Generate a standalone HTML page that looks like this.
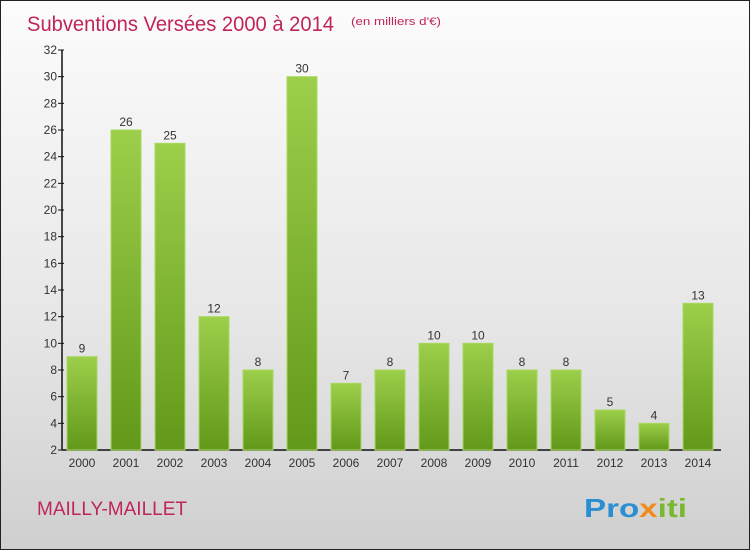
<!DOCTYPE html>
<html><head><meta charset="utf-8"><style>
html,body{margin:0;padding:0}
body{width:750px;height:550px;overflow:hidden;font-family:"Liberation Sans",sans-serif}
#wrap{position:relative;width:748px;height:548px;border:1px solid #222;background:linear-gradient(#fcfcfc,#e6e6e6 60%,#cfcfcf)}
</style></head><body>
<div id="wrap">
<svg id="chart" width="748" height="548" style="position:absolute;left:0;top:0">
<defs><linearGradient id="g" x1="0" y1="0" x2="0" y2="1"><stop offset="0" stop-color="#9ccf4a"/><stop offset="1" stop-color="#62991a"/></linearGradient></defs>
<text x="26" y="30" font-size="21" textLength="307" lengthAdjust="spacingAndGlyphs" fill="#c0245c">Subventions Versées 2000 à 2014</text>
<text x="350" y="24" font-size="11" textLength="90" lengthAdjust="spacingAndGlyphs" fill="#c0245c">(en milliers d'€)</text>
<text x="36" y="514" font-size="19" textLength="150" lengthAdjust="spacingAndGlyphs" fill="#c0245c">MAILLY-MAILLET</text>
<text x="583" y="516" font-size="26" font-weight="bold" textLength="103" lengthAdjust="spacingAndGlyphs" fill="#2a8fd0">Pro<tspan fill="#f08a1c">x</tspan><tspan fill="#7ab830">iti</tspan></text>
<g id="axes"></g><g id="bars"></g>
</svg>
</div>
<script>
const years=["2000","2001","2002","2003","2004","2005","2006","2007","2008","2009","2010","2011","2012","2013","2014"];
const values=[9,26,25,12,8,30,7,8,10,10,8,8,5,4,13];
const yTicks=[2,4,6,8,10,12,14,16,18,20,22,24,26,28,30,32];
const NS="http://www.w3.org/2000/svg";
const y0=449,yTop=49,vMin=2,vMax=32;
function yS(v){return y0-(v-vMin)*(y0-yTop)/(vMax-vMin);}
function xS(i){return 81+i*44;}
function mk(t,a,p){const e=document.createElementNS(NS,t);for(const k in a)e.setAttribute(k,a[k]);p.appendChild(e);return e;}
const ax=document.getElementById('axes'),bg=document.getElementById('bars');
const yl=mk('line',{x1:61,y1:yTop,x2:61,y2:y0,stroke:'#111','stroke-width':1.5},ax);


const xl=mk('line',{x1:61,y1:y0,x2:720,y2:y0,stroke:'#111','stroke-width':1.5},ax);


yTicks.forEach(v=>{const y=yS(v);
mk('line',{x1:57,y1:y,x2:63,y2:y,stroke:'#111'},ax);
const t=mk('text',{x:56,y:y+4,'font-size':12,'text-anchor':'end',fill:'#333'},ax);t.textContent=v;

});
years.forEach((yr,i)=>{const cx=xS(i),v=values[i],y=yS(v);
const r=mk('rect',{x:cx-15,y:y,width:30,height:y0-y,fill:'url(#g)',stroke:'#a8d860','stroke-width':1},bg);


const l=mk('text',{x:cx,y:y-4,'font-size':12,'text-anchor':'middle',fill:'#333'},bg);l.textContent=v;


const xt=mk('text',{x:cx,y:466,'font-size':12,'text-anchor':'middle',fill:'#333'},ax);xt.textContent=yr;

});
</script>
</body></html>
